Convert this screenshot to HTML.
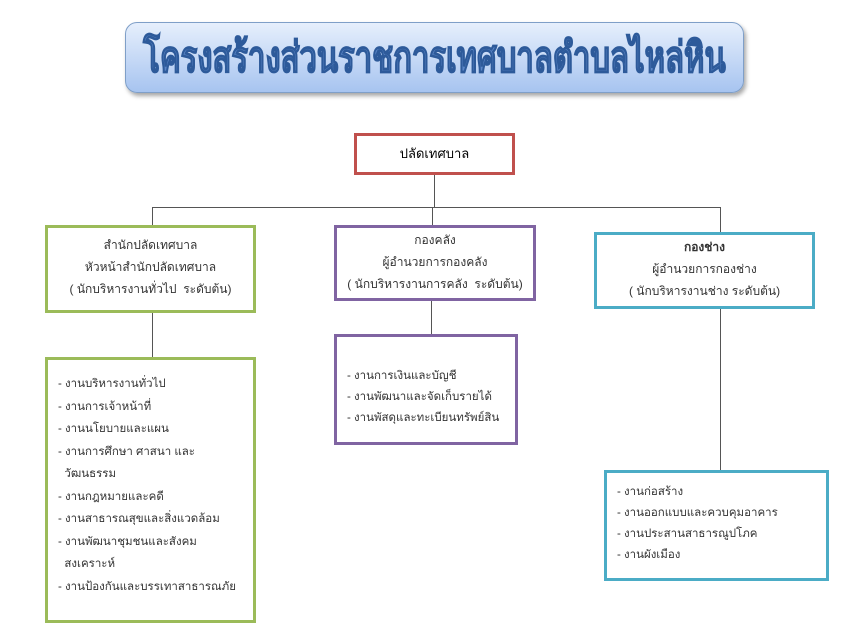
<!DOCTYPE html>
<html><head><meta charset="utf-8"><style>
body{margin:0;width:867px;height:644px;background:#fff;position:relative;overflow:hidden;font-family:"Liberation Sans","DejaVu Sans",sans-serif;color:#333;}
.b{position:absolute;box-sizing:border-box;background:#fff;}
.c{text-align:center;font-size:12px;line-height:22px;}
.l{font-size:11.5px;line-height:22.5px;padding-left:10px;}
.ln{position:absolute;background:#555;}
</style></head><body>
<div class="b" style="left:125px;top:22px;width:619px;height:71px;border-radius:12px;border:1px solid #7f9fc8;background:linear-gradient(#e6effc,#a7c4f0);box-shadow:2px 3px 4px rgba(0,0,0,.35);text-align:center;white-space:nowrap;"><span style="display:inline-block;font-size:31px;line-height:69px;color:#5b86c7;font-weight:bold;-webkit-text-stroke:1px #2d5a9a;transform:scaleY(1.35);">โครงสร้างส่วนราชการเทศบาลตำบลไหล่หิน</span></div>

<div class="b c" style="left:354px;top:133px;width:161px;height:42px;border:3px solid #c0504d;line-height:36px;font-size:13px;color:#000">ปลัดเทศบาล</div>

<div class="ln" style="left:434px;top:175px;width:1px;height:33px"></div>
<div class="ln" style="left:152px;top:207px;width:569px;height:1px"></div>
<div class="ln" style="left:152px;top:207px;width:1px;height:18px"></div>
<div class="ln" style="left:432px;top:207px;width:1px;height:18px"></div>
<div class="ln" style="left:720px;top:207px;width:1px;height:25px"></div>
<div class="ln" style="left:152px;top:312px;width:1px;height:46px"></div>
<div class="ln" style="left:431px;top:300px;width:1px;height:35px"></div>
<div class="ln" style="left:720px;top:308px;width:1px;height:163px"></div>

<div class="b c" style="left:45px;top:225px;width:211px;height:88px;border:3px solid #9bbb59;padding-top:6px">สำนักปลัดเทศบาล<br>หัวหน้าสำนักปลัดเทศบาล<br>( นักบริหารงานทั่วไป &nbsp;ระดับต้น)</div>
<div class="b c" style="left:334px;top:225px;width:202px;height:76px;border:3px solid #8064a2;padding-top:1px">กองคลัง<br>ผู้อำนวยการกองคลัง<br>( นักบริหารงานการคลัง &nbsp;ระดับต้น)</div>
<div class="b c" style="left:594px;top:232px;width:221px;height:77px;border:3px solid #4bacc6;padding-top:1px"><b>กองช่าง</b><br>ผู้อำนวยการกองช่าง<br>( นักบริหารงานช่าง ระดับต้น)</div>

<div class="b l" style="left:45px;top:357px;width:211px;height:266px;border:3px solid #9bbb59;padding-top:13px">- งานบริหารงานทั่วไป<br>- งานการเจ้าหน้าที่<br>- งานนโยบายและแผน<br>- งานการศึกษา ศาสนา และ<br>&nbsp;&nbsp;วัฒนธรรม<br>- งานกฎหมายและคดี<br>- งานสาธารณสุขและสิ่งแวดล้อม<br>- งานพัฒนาชุมชนและสังคม<br>&nbsp;&nbsp;สงเคราะห์<br>- งานป้องกันและบรรเทาสาธารณภัย</div>
<div class="b l" style="left:334px;top:334px;width:184px;height:111px;border:3px solid #8064a2;padding-top:29px;line-height:21px">- งานการเงินและบัญชี<br>- งานพัฒนาและจัดเก็บรายได้<br>- งานพัสดุและทะเบียนทรัพย์สิน</div>
<div class="b l" style="left:604px;top:470px;width:225px;height:111px;border:3px solid #4bacc6;padding-top:9px;line-height:21px">- งานก่อสร้าง<br>- งานออกแบบและควบคุมอาคาร<br>- งานประสานสาธารณูปโภค<br>- งานผังเมือง</div>
</body></html>
